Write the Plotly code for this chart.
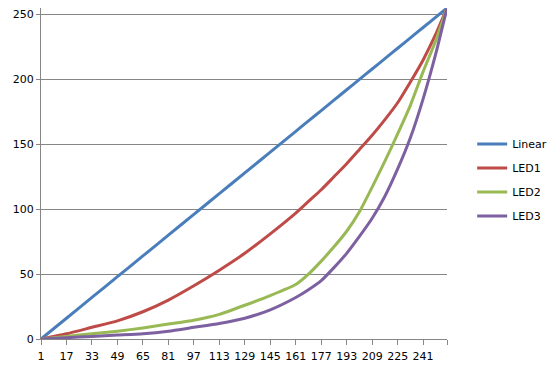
import plotly.graph_objects as go

# sample points (category index 1..256)
x_pts = [1, 17, 33, 49, 65, 81, 97, 113, 129, 145, 161, 169, 177, 185, 193, 201, 209, 217, 225, 233, 241, 249, 256]
linear = [0, 16, 32, 48, 64, 80, 96, 112, 128, 144, 160, 168, 176, 184, 192, 200, 208, 216, 224, 232, 240, 248, 255]
led1 = [0, 4, 9, 14, 21, 30, 41, 53, 66, 81, 97, 106, 115, 125, 135, 146, 157, 169, 182, 198, 215, 235, 255]
led2 = [0, 2, 4, 6, 8.5, 11.5, 14.5, 19, 26, 33.5, 42, 50, 60, 71, 83, 98, 117, 137, 158, 180, 206, 230, 255]
led3 = [0, 1, 2, 3, 4, 6, 9, 12, 16, 22.5, 32, 38, 45, 55, 66, 79, 93, 110, 131, 155, 185, 220, 255]

tick_vals = [1, 17, 33, 49, 65, 81, 97, 113, 129, 145, 161, 177, 193, 209, 225, 241, 256]
tick_text = ["1", "17", "33", "49", "65", "81", "97", "113", "129", "145", "161", "177", "193", "209", "225", "241", ""]

series = [
    ("Linear", linear, "#4A7EBB"),
    ("LED1", led1, "#BE4B48"),
    ("LED2", led2, "#98B954"),
    ("LED3", led3, "#7D60A0"),
]

fig = go.Figure()
for i, (name, vals, color) in enumerate(series):
    fig.add_trace(go.Scatter(
        x=x_pts, y=vals, name=name, mode="lines",
        line=dict(color=color, width=3, shape="spline", smoothing=0.5),
        legendgroup=str(i),
    ))

FONT = "DejaVu Sans"
fig.update_layout(
    width=554, height=374,
    margin=dict(l=41, r=107, t=8, b=35, autoexpand=False),
    paper_bgcolor="white", plot_bgcolor="white",
    font=dict(family=FONT, size=11, color="black"),
    showlegend=True,
    legend=dict(x=1.062, y=0.48, xanchor="left", yanchor="middle",
                font=dict(family=FONT, size=11, color="black"),
                tracegroupgap=5, itemwidth=30,
                bgcolor="rgba(0,0,0,0)"),
    xaxis=dict(range=[1, 256], tickmode="array", tickvals=tick_vals, ticktext=tick_text,
               showgrid=False, zeroline=False, showline=True, linecolor="#868686", linewidth=1,
               ticks="outside", ticklen=5, tickcolor="#868686", tickangle=0,
               ticklabelstandoff=2),
    yaxis=dict(range=[0, 255], tickmode="array", tickvals=[0, 50, 100, 150, 200, 250],
               showgrid=True, gridcolor="#868686", gridwidth=1, zeroline=False,
               showline=True, linecolor="#868686", linewidth=1,
               ticks="outside", ticklen=4, tickcolor="#868686"),
)

fig.write_html("out.html")
